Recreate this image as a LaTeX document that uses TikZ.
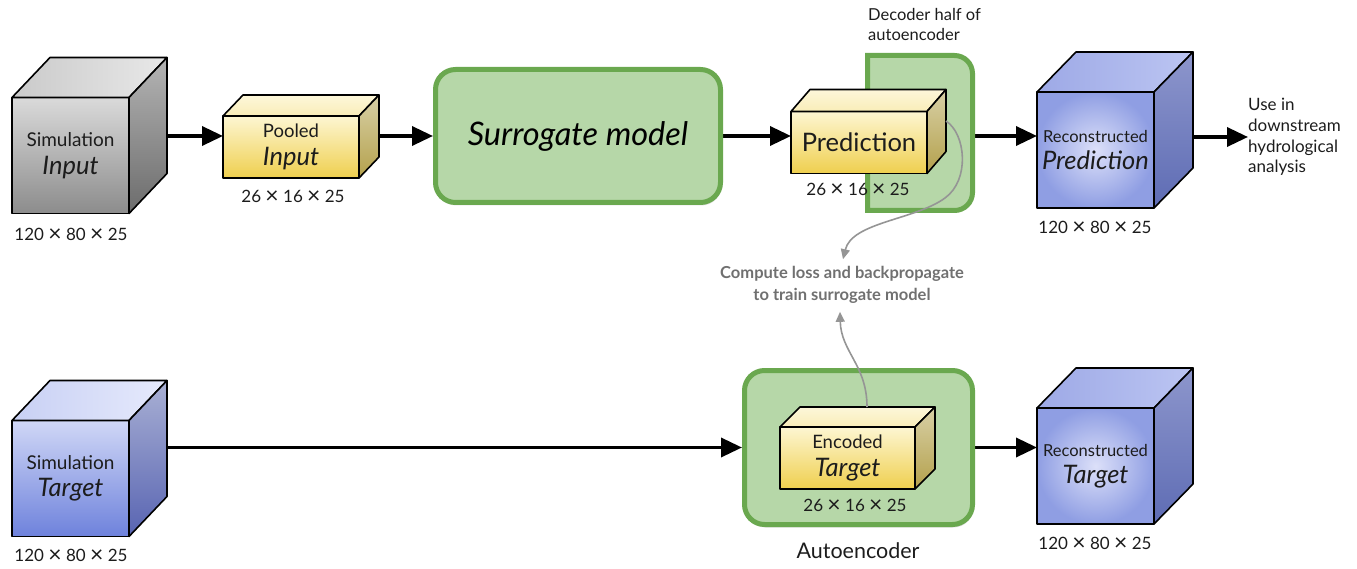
\documentclass[tikz,border=0pt]{standalone}
\usepackage{fontspec}
\setmainfont{Lato}
\usetikzlibrary{arrows.meta,calc,shadows,backgrounds}
\definecolor{txt}{HTML}{1C1C1C}
\definecolor{grF1}{HTML}{DADADA}\definecolor{grF2}{HTML}{8C8C8C}
\definecolor{grT1}{HTML}{E8E8E8}\definecolor{grT2}{HTML}{CACACA}
\definecolor{grS1}{HTML}{B4B4B4}\definecolor{grS2}{HTML}{6C6C6C}
\definecolor{blF1}{HTML}{D0D7F6}\definecolor{blF2}{HTML}{6E82DC}
\definecolor{blT1}{HTML}{E6EAFC}\definecolor{blT2}{HTML}{C8D0F4}
\definecolor{blS1}{HTML}{A9B0D4}\definecolor{blS2}{HTML}{5864B2}
\definecolor{rcF1}{HTML}{DCE0F9}\definecolor{rcF2}{HTML}{8F9EE3}
\definecolor{rcT1}{HTML}{BCC5F2}\definecolor{rcT2}{HTML}{9DA9E6}
\definecolor{rcS1}{HTML}{8D96CC}\definecolor{rcS2}{HTML}{5E6CB4}
\definecolor{yeF1}{HTML}{FDF6D2}\definecolor{yeF2}{HTML}{EFCF4E}
\definecolor{yeT1}{HTML}{FDF7DA}\definecolor{yeT2}{HTML}{F9EDB8}
\definecolor{yeS1}{HTML}{D8D0A6}\definecolor{yeS2}{HTML}{B4A14C}
\definecolor{gnFill}{HTML}{B6D7A8}\definecolor{gnLine}{HTML}{6AA84F}
\definecolor{lossgray}{HTML}{707070}\definecolor{curvegray}{HTML}{959595}
\newcommand\cubefaces[5]{%
  \path[#2] (#1.north west) -- ++(#4,-#5) -- ($(#1.north east)+(#4,-#5)$) -- (#1.north east) -- cycle;
  \path[#3] (#1.north east) -- ++(#4,-#5) -- ($(#1.south east)+(#4,-#5)$) -- (#1.south east) -- cycle;}
\newcommand\mul{\raisebox{-0.05em}{\scalebox{1.35}{×}}}
\newcommand\dimtxt{120 \mul{} 80 \mul{} 25}
\newcommand\dimsm{26 \mul{} 16 \mul{} 25}
\begin{document}
\begin{tikzpicture}[x=1pt,y=-1pt,
  edge/.style={draw=black, line width=1.6pt, line join=round},
  face/.style={edge, inner sep=0pt, outer sep=0pt, align=center, text=txt},
  cube/.style={face, minimum width=117pt, minimum height=116pt},
  slab/.style={face, minimum width=136pt, minimum height=62pt},
  grayF/.style={top color=grF1, bottom color=grF2},
  grayT/.style={edge, left color=grT2, right color=grT1},
  grayS/.style={edge, top color=grS1, bottom color=grS2},
  blueF/.style={top color=blF1, bottom color=blF2},
  blueT/.style={edge, left color=blT2, right color=blT1},
  blueS/.style={edge, top color=blS1, bottom color=blS2},
  reconF/.style={inner color=rcF1, outer color=rcF2},
  reconT/.style={edge, left color=rcT2, right color=rcT1},
  reconS/.style={edge, top color=rcS1, bottom color=rcS2},
  yelF/.style={top color=yeF1, bottom color=yeF2},
  yelT/.style={edge, top color=yeT1, bottom color=yeT2},
  yelS/.style={edge, top color=yeS1, bottom color=yeS2},
  greenbox/.style={draw=gnLine, fill=gnFill, line width=5pt, rounded corners=20pt,
    drop shadow={shadow xshift=1pt, shadow yshift=-3pt, opacity=.25}},
  dim/.style={text=txt, font=\fontsize{17}{20}\selectfont, inner sep=0pt},
  arr/.style={draw=black, line width=3.5pt, -{Triangle[length=21pt,width=19pt]}},
  garr/.style={draw=curvegray, line width=1.6pt, -{Triangle[length=10pt,width=9pt]}},
]
\useasboundingbox (0,0) rectangle (1357,569);

% ---------- top row ----------
\node[cube, grayF] (simin) at (70.5,155.5)
  {{\fontsize{19}{22}\selectfont Simulation}\\[8pt]{\fontsize{25.5}{28}\selectfont\itshape Input}};
\cubefaces{simin}{grayT}{grayS}{38}{40}
\node[dim] (simindim) at (71,235) {\dimtxt};

\node[slab, yelF] (pool) at (291,147)
  {{\fontsize{18.5}{22}\selectfont Pooled}\\[8pt]{\fontsize{25.5}{28}\selectfont\itshape Input}};
\cubefaces{pool}{yelT}{yelS}{20}{21}
\node[dim] (pooldim) at (293,197) {\dimsm};

\node[greenbox, minimum width=285pt, minimum height=133pt] (surr) at (578,136)
  {\fontsize{32.5}{38}\selectfont\itshape Surrogate model};

\node[inner sep=0pt, outer sep=0pt, minimum width=110pt, minimum height=160pt] (dec) at (920,133) {};
\path[draw=gnLine, fill=gnFill, line width=5pt]
  (867.5,210.5) -- (867.5,55.5) -- (954.5,55.5) to[out=0,in=90] (972.5,73.5)
  -- (972.5,192.5) to[out=-90,in=0] (954.5,210.5) -- cycle;
\node[anchor=north west, align=left, text=txt, inner sep=0pt,
  font=\fontsize{16.5}{20.5}\selectfont] (dectxt) at (868,8) {Decoder half of\\autoencoder};

\node[slab, yelF] (pred) at (859,142.5) {\fontsize{25.5}{28}\selectfont Prediction};
\cubefaces{pred}{yelT}{yelS}{19}{22}
\node[dim] (preddim) at (858,190) {\dimsm};

\node[cube, reconF] (rpred) at (1095.5,150)
  {{\fontsize{16.5}{18}\selectfont Reconstructed}\\[8pt]{\fontsize{25.5}{28}\selectfont\itshape Prediction}};
\cubefaces{rpred}{reconT}{reconS}{39}{40}
\node[dim] (rpreddim) at (1095,228) {\dimtxt};

\node[anchor=west, align=left, text=txt, inner sep=0pt,
  font=\fontsize{17}{20.7}\selectfont] (use) at (1248,137) {Use in\\downstream\\hydrological\\analysis};

% ---------- loss ----------
\node[align=center, text=lossgray, inner sep=0pt,
  font=\fontsize{16.5}{22}\selectfont\bfseries] (loss) at (842,285)
  {Compute loss and backpropagate\\to train surrogate model};

% ---------- bottom row ----------
\node[cube, blueF] (simt) at (70.5,478.5)
  {{\fontsize{19}{22}\selectfont Simulation}\\[8pt]{\fontsize{25.5}{28}\selectfont\itshape Target}};
\cubefaces{simt}{blueT}{blueS}{38}{40}
\node[dim] (simtdim) at (71,556) {\dimtxt};

\node[greenbox, minimum width=228pt, minimum height=154pt] (ae) at (858.5,447.5) {};
\node[text=txt, inner sep=0pt, font=\fontsize{21.5}{24}\selectfont] (aetxt) at (858,551) {Autoencoder};

\node[slab, yelF, minimum width=135pt] (enc) at (847.5,458)
  {{\fontsize{18.5}{22}\selectfont Encoded}\\[8pt]{\fontsize{25.5}{28}\selectfont\itshape Target}};
\cubefaces{enc}{yelT}{yelS}{20}{20}
\node[dim] (encdim) at (855,506) {\dimsm};

\node[cube, reconF] (rtgt) at (1095.5,466)
  {{\fontsize{16.5}{18}\selectfont Reconstructed}\\[8pt]{\fontsize{25.5}{28}\selectfont\itshape Target}};
\cubefaces{rtgt}{reconT}{reconS}{39}{40}
\node[dim] (rtgtdim) at (1095,544) {\dimtxt};

% ---------- gray curves ----------
\coordinate (predR) at (946,121);
\coordinate (encT) at (867,407);
\draw[garr] (predR) .. controls (966,134) and (970,180) .. (945,198)
  .. controls (915,220) and (852,222) .. ($(loss.north)+(1,-7)$);
\draw[garr] (encT) .. controls (867,365) and (841,352) .. ($(loss.south)+(-2,8)$);

% ---------- arrows (behind) ----------
\begin{scope}[on background layer]
\draw[arr] (simin.east |- surr.west) -- (pool.west |- surr.west);
\draw[arr] (pool.east |- surr.west) -- (surr.west);
\draw[arr] (surr.east) -- (pred.west |- surr.east);
\draw[arr] (dec.east |- surr.east) -- (rpred.west |- surr.east);
\draw[arr] (rpred.east |- use.west) -- (use.west);
\draw[arr] (simt.east |- ae.west) -- (ae.west);
\draw[arr] (ae.east) -- (rtgt.west |- ae.east);
\end{scope}
\end{tikzpicture}
\end{document}
